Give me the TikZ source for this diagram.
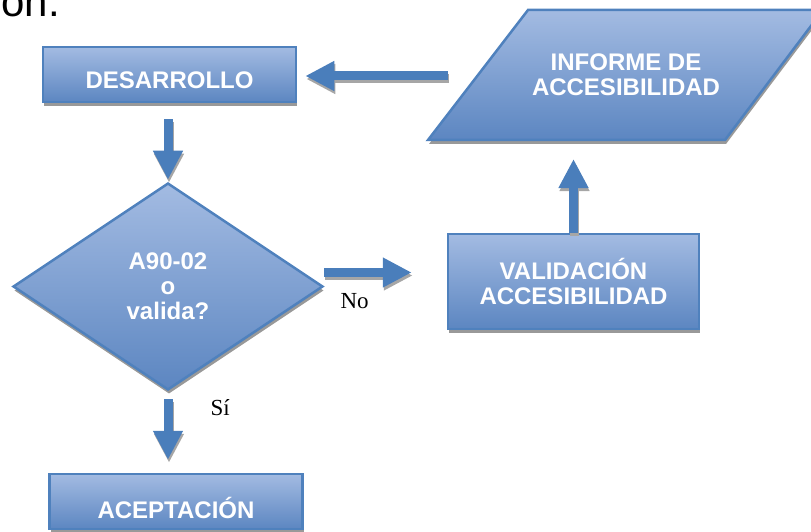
\documentclass[tikz,border=0pt]{standalone}
\usepackage{fontspec}
\setmainfont{Liberation Serif}
\setsansfont{Liberation Sans}
\usetikzlibrary{shapes.geometric,shadows,arrows.meta}

\definecolor{blkborder}{RGB}{79,129,189}
\definecolor{blktop}{RGB}{163,187,226}
\definecolor{blkbot}{RGB}{92,134,193}
\definecolor{arrblue}{RGB}{74,126,187}

\tikzset{
	blk/.style={draw=blkborder, line width=2.5pt, top color=blktop, bottom color=blkbot,
		drop shadow={shadow xshift=1pt,shadow yshift=-4pt,fill=black!40,opacity=1}},
	box/.style={blk, rectangle, minimum width=253pt, minimum height=55pt},
	lbl/.style={text=white, font=\sffamily\bfseries\fontsize{24}{25}\selectfont, align=center},
	fat/.style={line width=9pt, -{Triangle[length=29pt,width=28pt]}},
	yesno/.style={anchor=base west, font=\fontsize{23}{23}\selectfont}
}

\begin{document}
\begin{tikzpicture}[x=1pt,y=-1pt]
	\useasboundingbox (0,0) rectangle (811,532);
	\node[anchor=base west, font=\sffamily\fontsize{42}{42}\selectfont] (head) at (-2,17) {ón.};
	% bloques
	\node[box, label={[lbl,yshift=-6pt]center:DESARROLLO}] (des) at (169.5,74.5) {};
	\node[blk, diamond, minimum width=310pt, minimum height=207pt, lbl] (dec) at (168,286.5) {A90-02\\o\\valida?};
	\node[box, minimum width=251pt, minimum height=95pt, lbl] (val) at (573.5,281.5) {VALIDACIÓN\\ACCESIBILIDAD};
	\node[box, label={[lbl,yshift=-6pt]center:ACEPTACIÓN}] (acep) at (176,501.5) {};
	\path[blk] (428,140) coordinate (pinf) -- (528,10) -- (823,10) -- (725,140) -- cycle;
	\node[lbl] (inf) at (626,75) {INFORME DE\\ACCESIBILIDAD};
	\coordinate (infout) at (448,76);
	% flechas, primero la sombra
	\foreach \dx/\dy/\col in {1pt/-3pt/black!35, 0pt/0pt/arrblue} {
		\begin{scope}[transform canvas={xshift=\dx,yshift=\dy}]
		\draw[fat, draw=\col, shorten <=16pt, shorten >=2pt] (des.south -| dec.north) -- (dec.north);
		\draw[fat, draw=\col, shorten <=8pt, shorten >=13pt] (dec.south) -- (dec.south |- acep.north);
		\draw[fat, draw=\col, shorten >=35pt] ([yshift=14pt]dec.east) -- ([yshift=14pt]dec.east -| val.west);
		\draw[fat, draw=\col, shorten >=19pt] (val.north) -- (val.north |- pinf);
		\draw[fat, draw=\col, shorten >=8pt] (infout) -- (infout -| des.east);
		\end{scope}
	}
	\node[yesno] (no) at (337,308) {No};
	\node[yesno] (si) at (207,415) {Sí};
\end{tikzpicture}
\end{document}
